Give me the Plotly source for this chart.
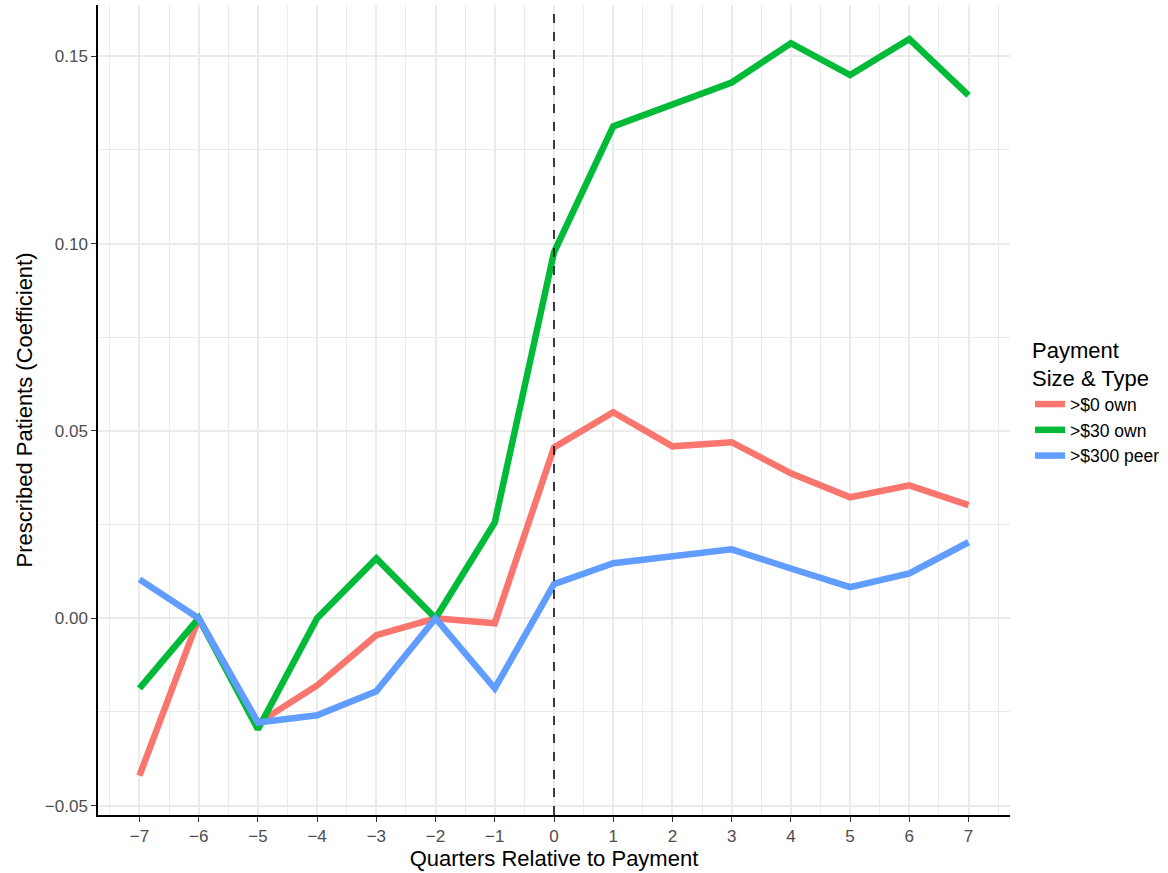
import plotly.graph_objects as go

quarters = [-7, -6, -5, -4, -3, -2, -1, 0, 1, 2, 3, 4, 5, 6, 7]
own0 = [-0.042, 0.0, -0.028, -0.0179, -0.0045, 0.0, -0.0013, 0.0456, 0.055, 0.0459, 0.047, 0.0387, 0.0323, 0.0355, 0.0302]
own30 = [-0.0187, 0.0, -0.0296, 0.0, 0.016, 0.0, 0.0256, 0.0977, 0.1313, 0.137, 0.143, 0.1535, 0.145, 0.1546, 0.1396]
peer300 = [0.0104, 0.0, -0.0278, -0.0259, -0.0195, 0.0, -0.0187, 0.0091, 0.0147, 0.0166, 0.0184, 0.0133, 0.0083, 0.012, 0.0203]

series_names = [">$0 own", ">$30 own", ">$300 peer"]
series_vals = [own0, own30, peer300]
colors = ["#F8766D", "#00BA38", "#619CFF"]

fig = go.Figure()
for name, vals, c in zip(series_names, series_vals, colors):
    fig.add_trace(go.Scatter(x=quarters, y=vals, mode="lines", name=name,
                             line=dict(color=c, width=6.5)))

fig.add_hline(y=0, line=dict(color="black", width=1.5), layer="below")
fig.add_vline(x=0, line=dict(color="black", width=1.5, dash="dash"), layer="above")

font_family = "Liberation Sans, Arial, Helvetica, sans-serif"
fig.update_layout(
    width=1168, height=873,
    margin=dict(l=98, r=158, t=5, b=58, autoexpand=False),
    plot_bgcolor="white", paper_bgcolor="white",
    font=dict(family=font_family, color="black"),
    legend=dict(
        title=dict(text="Payment<br>Size & Type", font=dict(size=22, color="black")),
        font=dict(size=17.5, color="black"),
        xref="container", yref="container",
        x=1030 / 1168, xanchor="left", y=1 - 329 / 873, yanchor="top",
        tracegroupgap=0, itemwidth=30,
    ),
    xaxis=dict(
        range=[-7.7, 7.7],
        tickmode="array", tickvals=quarters, ticktext=[f"{q}".replace("-", "\u2212") for q in quarters],
        showgrid=True, gridcolor="#ebebeb", gridwidth=1.5,
        minor=dict(dtick=0.5, showgrid=True, gridcolor="#ebebeb", gridwidth=1, ticks=""),
        showline=True, linecolor="black", linewidth=1.5,
        ticks="outside", ticklen=5, tickcolor="#333333",
        tickfont=dict(size=17, color="#4d4d4d"),
        title=dict(text="Quarters Relative to Payment", font=dict(size=22, color="black"), standoff=4),
        zeroline=False,
    ),
    yaxis=dict(
        range=[-0.0525, 0.1637],
        tickmode="array", tickvals=[-0.05, 0.0, 0.05, 0.10, 0.15],
        ticktext=["\u22120.05", "0.00", "0.05", "0.10", "0.15"],
        showgrid=True, gridcolor="#ebebeb", gridwidth=1.5,
        minor=dict(dtick=0.025, tick0=0, showgrid=True, gridcolor="#ebebeb", gridwidth=1, ticks=""),
        showline=True, linecolor="black", linewidth=1.5,
        ticks="outside", ticklen=5, tickcolor="#333333",
        tickfont=dict(size=17, color="#4d4d4d"),
        title=dict(text="Prescribed Patients (Coefficient)", font=dict(size=22, color="black"), standoff=6),
        zeroline=False,
    ),
)

fig.write_html("out.html", config={"displayModeBar": False},
               post_script="document.body.style.margin='0';")
